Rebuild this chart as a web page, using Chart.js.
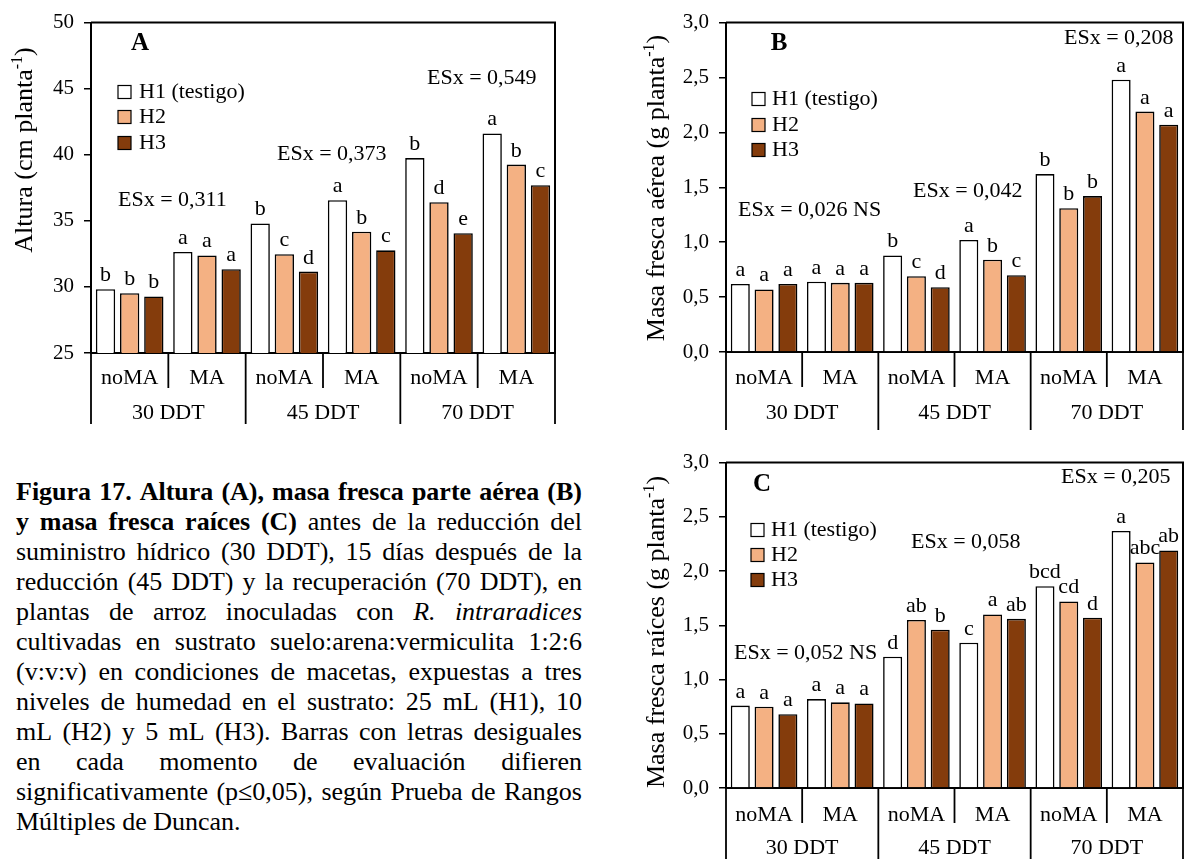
<!DOCTYPE html>
<html><head><meta charset="utf-8">
<script src="https://cdn.jsdelivr.net/npm/chart.js@4.4.1/dist/chart.umd.min.js"></script>
<style>
html,body{margin:0;padding:0;background:#fff;}
body{width:1186px;height:859px;overflow:hidden;position:relative;font-family:'Liberation Serif','Times New Roman',serif;color:#000;}
canvas{position:absolute;}
#cap{position:absolute;left:16px;top:477px;width:566px;font-size:26px;line-height:30px;}
.ln{display:flex;justify-content:space-between;white-space:nowrap;height:30px;}
.ln.last{justify-content:flex-start;}
.ln.last span{margin-right:0.25em;}
.b{font-weight:bold}.i{font-style:italic}
</style></head><body>
<canvas id="cA" width="590" height="440" style="left:0;top:0"></canvas>
<canvas id="cB" width="596" height="440" style="left:590px;top:0"></canvas>
<canvas id="cC" width="596" height="419" style="left:590px;top:440px"></canvas>
<div id="cap"></div>
<script>
// ---------- data ----------
const categories = ['noMA','MA','noMA','MA','noMA','MA'];
const periods = ['30 DDT','45 DDT','70 DDT'];
const seriesNames = ['H1 (testigo)','H2','H3'];
const seriesColors = ['#FFFFFF','#F4B183','#843C0C'];

const alturaH1 = [29.83, 32.65, 34.80, 36.56, 39.75, 41.61];
const alturaH2 = [29.53, 32.38, 32.48, 34.18, 36.41, 39.26];
const alturaH3 = [29.28, 31.34, 31.16, 32.77, 34.06, 37.70];
const alturaLetters = [['b','a','b','a','b','a'],['b','a','c','b','d','b'],['b','a','d','c','e','c']];
const alturaTicks = [25,30,35,40,45,50];

const aereaH1 = [0.62, 0.64, 0.88, 1.02, 1.62, 2.48];
const aereaH2 = [0.57, 0.63, 0.69, 0.84, 1.31, 2.19];
const aereaH3 = [0.62, 0.63, 0.59, 0.70, 1.42, 2.07];
const aereaLetters = [['a','a','b','a','b','a'],['a','a','c','b','b','a'],['a','a','d','c','b','a']];

const raicesH1 = [0.76, 0.82, 1.21, 1.34, 1.86, 2.37];
const raicesH2 = [0.75, 0.79, 1.55, 1.60, 1.72, 2.08];
const raicesH3 = [0.68, 0.78, 1.46, 1.56, 1.57, 2.19];
const raicesLetters = [['a','a','d','c','bcd','a'],['a','a','ab','a','cd','abc'],['a','a','b','ab','d','ab']];
const masaTicks = [0,0.5,1.0,1.5,2.0,2.5,3.0];

const esxA = ['ESx = 0,311','ESx = 0,373','ESx = 0,549'];
const esxB = ['ESx = 0,026 NS','ESx = 0,042','ESx = 0,208'];
const esxC = ['ESx = 0,052 NS','ESx = 0,058','ESx = 0,205'];

const captionLines = [
 [['b','Figura 17. Altura (A), masa fresca parte aérea (B)']],
 [['b','y masa fresca raíces (C)'],['n','antes de la reducción del']],
 [['n','suministro hídrico (30 DDT), 15 días después de la']],
 [['n','reducción (45 DDT) y la recuperación (70 DDT), en']],
 [['n','plantas de arroz inoculadas con'],['i','R. intraradices']],
 [['n','cultivadas en sustrato suelo:arena:vermiculita 1:2:6']],
 [['n','(v:v:v) en condiciones de macetas, expuestas a tres']],
 [['n','niveles de humedad en el sustrato: 25 mL (H1), 10']],
 [['n','mL (H2) y 5 mL (H3). Barras con letras desiguales']],
 [['n','en cada momento de evaluación difieren']],
 [['n','significativamente (p≤0,05), según Prueba de Rangos']],
 [['n','Múltiples de Duncan.']]
];

// ---------- caption ----------
(function(){
  const cap = document.getElementById('cap');
  captionLines.forEach((segs, li) => {
    const d = document.createElement('div');
    d.className = 'ln' + (li === captionLines.length - 1 ? ' last' : '');
    segs.forEach(([cls, txt]) => {
      txt.split(' ').forEach(w => {
        const s = document.createElement('span');
        if (cls !== 'n') s.className = cls;
        s.textContent = w;
        d.appendChild(s);
      });
    });
    cap.appendChild(d);
  });
})();

// ---------- chart helpers ----------
const FONT = '"Liberation Serif", "Times New Roman", serif';

function drawYTitle(ctx, cx, cy, main, sup, tail, size) {
  ctx.save();
  ctx.translate(cx, cy);
  ctx.rotate(-Math.PI / 2);
  ctx.fillStyle = '#000';
  ctx.textBaseline = 'alphabetic';
  ctx.textAlign = 'left';
  ctx.font = size + 'px ' + FONT;
  const w1 = ctx.measureText(main).width;
  const w3 = ctx.measureText(tail).width;
  const ss = Math.round(size * 0.62);
  ctx.font = ss + 'px ' + FONT;
  const w2 = ctx.measureText(sup).width;
  let x = -(w1 + w2 + w3) / 2;
  const base = size * 0.34;
  ctx.font = size + 'px ' + FONT;
  ctx.fillText(main, x, base); x += w1;
  ctx.font = ss + 'px ' + FONT;
  ctx.fillText(sup, x, base - size * 0.38); x += w2;
  ctx.font = size + 'px ' + FONT;
  ctx.fillText(tail, x, base);
  ctx.restore();
}

function makePanelPlugin(o) {
  return {
    id: 'panel' + o.name,
    beforeDatasetsDraw(chart) {
      const ctx = chart.ctx;
      ctx.save();
      ctx.fillStyle = '#000';
      ctx.font = '22px ' + FONT;
      ctx.textAlign = 'center';
      ctx.textBaseline = 'alphabetic';
      o.letters.forEach((arr, di) => {
        const meta = chart.getDatasetMeta(di);
        meta.data.forEach((el, j) => {
          ctx.fillText(arr[j], el.x, el.y - 8);
        });
      });
      ctx.restore();
    },
    afterDraw(chart) {
      const ctx = chart.ctx;
      const a = chart.chartArea;
      const xs = chart.scales.x;
      const P = (x, y) => [x - o.ox, y - o.oy];
      ctx.save();
      ctx.strokeStyle = '#000';
      ctx.fillStyle = '#000';
      // frame (top + right)
      ctx.lineWidth = 2;
      ctx.beginPath();
      ctx.moveTo(a.left, a.top);
      ctx.lineTo(a.right, a.top);
      ctx.lineTo(a.right, a.bottom);
      ctx.stroke();
      // separators below axis
      const n = categories.length;
      const half = (xs.getPixelForValue(1) - xs.getPixelForValue(0)) / 2;
      ctx.lineWidth = 1.8;
      for (let i = 0; i <= n; i++) {
        const x = i < n ? xs.getPixelForValue(i) - half : xs.getPixelForValue(n - 1) + half;
        const yEnd = (i % 2 === 0 ? o.outerEnd : o.innerEnd) - o.oy;
        ctx.beginPath();
        ctx.moveTo(x, a.bottom);
        ctx.lineTo(x, yEnd);
        ctx.stroke();
      }
      // period labels
      ctx.font = '22px ' + FONT;
      ctx.textAlign = 'center';
      ctx.textBaseline = 'middle';
      periods.forEach((p, k) => {
        const x = (xs.getPixelForValue(2 * k) + xs.getPixelForValue(2 * k + 1)) / 2;
        ctx.fillText(p, x, o.ddtY - o.oy);
      });
      // ESx texts
      ctx.textAlign = 'left';
      o.esx.forEach((t, k) => {
        const [x, y] = P(o.esxPos[k][0], o.esxPos[k][1]);
        ctx.fillText(t, x, y);
      });
      // legend
      seriesNames.forEach((nm, k) => {
        const [bx, by] = P(o.legend.box, o.legend.rows[k]);
        ctx.fillStyle = seriesColors[k];
        ctx.fillRect(bx, by - 6.5, 13, 13);
        ctx.lineWidth = 1.2;
        ctx.strokeStyle = '#000';
        ctx.strokeRect(bx, by - 6.5, 13, 13);
        ctx.fillStyle = '#000';
        ctx.fillText(nm, o.legend.text - o.ox, by);
      });
      // panel letter
      ctx.font = 'bold 25px ' + FONT;
      ctx.textAlign = 'center';
      const [lx, ly] = P(o.panel[1], o.panel[2]);
      ctx.fillText(o.panel[0], lx, ly);
      ctx.restore();
      // y title
      const [tx, ty] = P(o.title.x, o.title.y);
      drawYTitle(ctx, tx, ty, o.title.main, '-1', ')', 26);
    }
  };
}

function makeChart(id, o) {
  const series = o.series;
  return new Chart(document.getElementById(id), {
    type: 'bar',
    data: {
      labels: categories,
      datasets: series.map((d, i) => ({
        label: seriesNames[i],
        data: d,
        backgroundColor: seriesColors[i],
        borderColor: '#000',
        borderWidth: 1.6,
        categoryPercentage: 0.937,
        barPercentage: 0.8
      }))
    },
    options: {
      responsive: false,
      animation: false,
      events: [],
      layout: { padding: { left: 0, top: o.padTop, right: o.padRight, bottom: 0 } },
      plugins: { legend: { display: false }, tooltip: { enabled: false } },
      scales: {
        x: {
          grid: { display: false, drawTicks: false },
          border: { display: true, color: '#000', width: 2 },
          ticks: { color: '#000', font: { family: FONT, size: 22 }, padding: o.xPad, maxRotation: 0, autoSkip: false },
          afterFit: s => { s.height = o.xHeight; }
        },
        y: {
          min: o.ticks[0],
          max: o.ticks[o.ticks.length - 1],
          afterBuildTicks: s => { s.ticks = o.ticks.map(v => ({ value: v })); },
          grid: { drawOnChartArea: false, color: '#000', lineWidth: 1.5, tickLength: 7 },
          border: { display: true, color: '#000', width: 2 },
          ticks: {
            color: '#000', font: { family: FONT, size: 21 }, padding: 10,
            callback: v => o.dec ? Number(v).toFixed(1).replace('.', ',') : String(v)
          },
          afterFit: s => { s.width = o.yWidth; }
        }
      }
    },
    plugins: [makePanelPlugin(o)]
  });
}

makeChart('cA', {
  name: 'A', ox: 0, oy: 0,
  series: [alturaH1, alturaH2, alturaH3], letters: alturaLetters,
  ticks: alturaTicks, dec: false,
  padTop: 16, padRight: 35, yWidth: 91, xHeight: 87, xPad: 12,
  innerEnd: 388, outerEnd: 424, ddtY: 413,
  esx: esxA, esxPos: [[118, 200], [277, 154], [427, 78]],
  legend: { box: 118, text: 139, rows: [92, 117, 143] },
  panel: ['A', 140, 44],
  title: { x: 23, y: 150, main: 'Altura (cm planta' }
});

makeChart('cB', {
  name: 'B', ox: 590, oy: 0,
  series: [aereaH1, aereaH2, aereaH3], letters: aereaLetters,
  ticks: masaTicks, dec: true,
  padTop: 18, padRight: 3, yWidth: 136, xHeight: 88, xPad: 13,
  innerEnd: 387, outerEnd: 430, ddtY: 413,
  esx: esxB, esxPos: [[738, 210], [913, 191], [1064, 38]],
  legend: { box: 752, text: 772, rows: [99, 125, 150] },
  panel: ['B', 779, 44],
  title: { x: 655, y: 188, main: 'Masa fresca aérea (g planta' }
});

makeChart('cC', {
  name: 'C', ox: 590, oy: 440,
  series: [raicesH1, raicesH2, raicesH3], letters: raicesLetters,
  ticks: masaTicks, dec: true,
  padTop: 20, padRight: 3, yWidth: 136, xHeight: 71, xPad: 14,
  innerEnd: 823, outerEnd: 860, ddtY: 848,
  esx: esxC, esxPos: [[734, 653], [911, 542], [1061, 477]],
  legend: { box: 751, text: 771, rows: [530, 555, 580] },
  panel: ['C', 762, 485],
  title: { x: 655, y: 632, main: 'Masa fresca raíces (g planta' }
});
</script>
</body></html>
